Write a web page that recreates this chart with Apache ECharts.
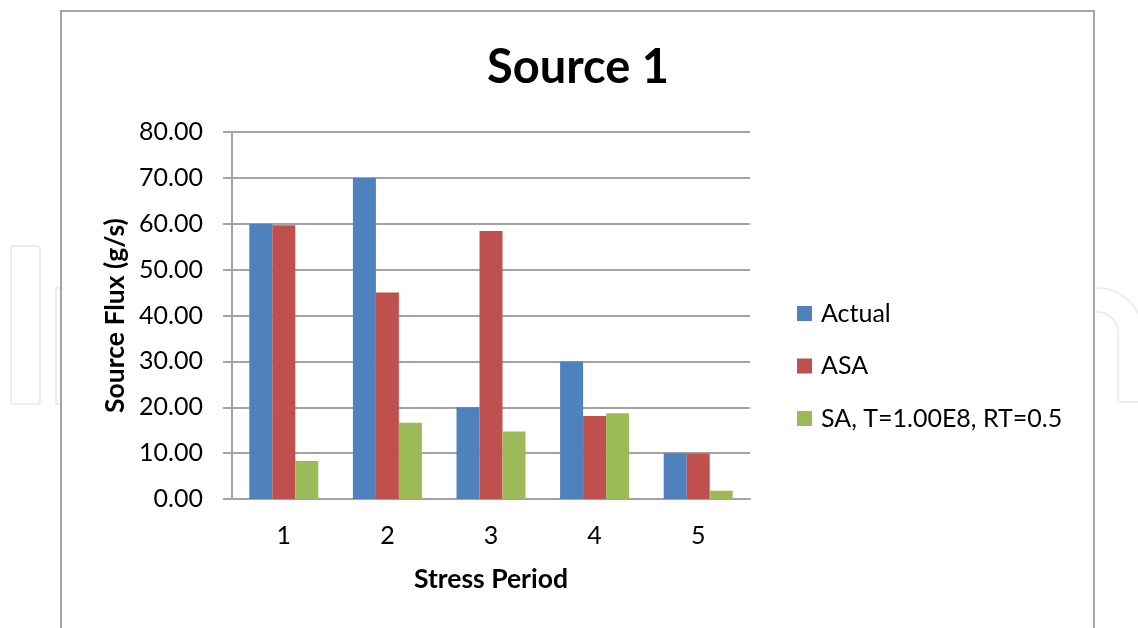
<!DOCTYPE html>
<html>
<head>
<meta charset="utf-8">
<script src="https://cdn.jsdelivr.net/npm/echarts@6/dist/echarts.min.js"></script>
<style>
  html, body { margin: 0; padding: 0; background: #ffffff; }
  #chart { width: 1138px; height: 628px; }
</style>
</head>
<body>
<div id="chart"></div>
<script>
// Stress periods and source flux (g/s) per method
const periods = ['1', '2', '3', '4', '5'];
const actual = [60.0, 70.0, 20.0, 30.0, 10.0];
const asa = [59.7, 45.0, 58.4, 18.1, 9.9];
const saT1e8 = [8.3, 16.6, 14.7, 18.7, 1.8];
const seriesNames = ['Actual', 'ASA', 'SA, T=1.00E8, RT=0.5'];
const seriesColors = ['#4F81BD', '#C0504D', '#9BBB59'];

const FONT = 'Lato';
const axisGray = '#a3a3a3';
const markGray = '#ededed';

const chart = echarts.init(document.getElementById('chart'), null, { renderer: 'canvas' });

function barSeries(name, data, color) {
  return {
    name: name,
    type: 'bar',
    data: data,
    barWidth: 23,
    barGap: '0%',
    itemStyle: { color: color },
    emphasis: { disabled: true }
  };
}

function faintLine(points) {
  return {
    type: 'polyline', silent: true,
    shape: { points: points },
    style: { fill: null, stroke: markGray, lineWidth: 2 }
  };
}

function faintArc(cx, cy, r) {
  return {
    type: 'arc', silent: true,
    shape: { cx: cx, cy: cy, r: r, startAngle: -Math.PI / 2, endAngle: 0, clockwise: true },
    style: { fill: null, stroke: markGray, lineWidth: 2 }
  };
}

chart.setOption({
  animation: false,
  backgroundColor: '#ffffff',
  textStyle: { fontFamily: FONT },
  title: {
    text: 'Source 1',
    left: 482,
    top: 37,
    textStyle: { fontFamily: FONT, fontWeight: 'bold', fontSize: 47, color: '#000000', lineHeight: 52 }
  },
  legend: {
    orient: 'vertical',
    left: 792,
    top: 296,
    itemWidth: 15,
    itemHeight: 15,
    itemGap: 27.5,
    icon: 'rect',
    textStyle: { fontFamily: FONT, fontSize: 25, color: '#000000', lineHeight: 25, padding: [0, 0, 0, 4] },
    data: seriesNames
  },
  grid: { left: 232, right: 388, top: 132, bottom: 129, containLabel: false },
  xAxis: {
    type: 'category',
    data: periods,
    name: 'Stress Period',
    nameLocation: 'middle',
    nameGap: 67,
    nameTextStyle: { fontFamily: FONT, fontWeight: 'bold', fontSize: 26.5, color: '#000000' },
    axisLine: { lineStyle: { color: axisGray, width: 2 } },
    axisTick: { show: false },
    axisLabel: { fontFamily: FONT, fontSize: 25, color: '#000000', margin: 24 }
  },
  yAxis: {
    type: 'value',
    min: 0,
    max: 80,
    interval: 10,
    name: 'Source Flux (g/s)',
    nameLocation: 'middle',
    nameGap: 103,
    nameRotate: 90,
    nameTextStyle: { fontFamily: FONT, fontWeight: 'bold', fontSize: 26.5, color: '#000000' },
    axisLine: { show: true, lineStyle: { color: axisGray, width: 2 } },
    axisTick: { show: true, length: 9, lineStyle: { color: axisGray, width: 2 } },
    splitLine: { lineStyle: { color: axisGray, width: 2 } },
    axisLabel: {
      fontFamily: FONT, fontSize: 25, color: '#000000', margin: 29,
      formatter: v => v.toFixed(2)
    }
  },
  series: [
    barSeries(seriesNames[0], actual, seriesColors[0]),
    barSeries(seriesNames[1], asa, seriesColors[1]),
    barSeries(seriesNames[2], saT1e8, seriesColors[2])
  ],
  graphic: [
    // faint publisher mark outside the chart frame
    {
      type: 'rect', silent: true,
      shape: { x: 11, y: 246, width: 29, height: 158, r: 3 },
      style: { fill: null, stroke: markGray, lineWidth: 2 }
    },
    faintLine([[60, 288], [56, 288], [56, 404], [60, 404]]),
    faintLine([[1096, 288], [1097, 288]]),
    faintArc(1097, 334, 46),
    faintLine([[1143, 334], [1143, 430]]),
    faintLine([[1096, 312], [1097, 312]]),
    faintArc(1097, 333, 21),
    faintLine([[1118, 333], [1118, 402], [1145, 402]]),
    // chart frame
    {
      type: 'rect', silent: true,
      shape: { x: 61, y: 11, width: 1033, height: 700 },
      style: { fill: null, stroke: '#a6a6a6', lineWidth: 2 }
    }
  ]
});
</script>
</body>
</html>
